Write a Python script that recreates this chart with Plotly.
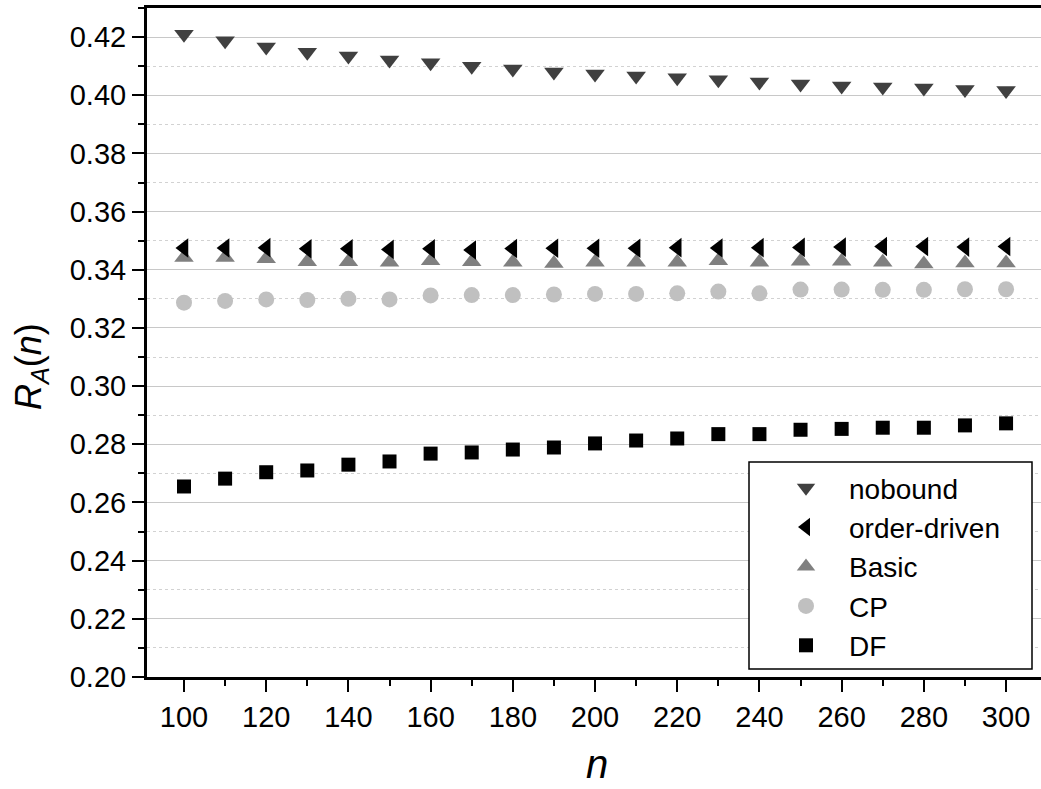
import plotly.graph_objects as go

n_values = [100, 110, 120, 130, 140, 150, 160, 170, 180, 190, 200,
            210, 220, 230, 240, 250, 260, 270, 280, 290, 300]

nobound = [0.4210, 0.4187, 0.4166, 0.4148, 0.4135, 0.4121, 0.4112, 0.4100,
           0.4090, 0.4080, 0.4073, 0.4066, 0.4060, 0.4053, 0.4046, 0.4039,
           0.4032, 0.4028, 0.4025, 0.4020, 0.4016]
order_driven = [0.3475, 0.3475, 0.3476, 0.3472, 0.3472, 0.3470, 0.3472, 0.3468,
                0.3473, 0.3474, 0.3474, 0.3474, 0.3476, 0.3475, 0.3476, 0.3477,
                0.3478, 0.3480, 0.3480, 0.3478, 0.3480]
basic = [0.3442, 0.3442, 0.3438, 0.3428, 0.3428, 0.3426, 0.3431, 0.3428,
         0.3426, 0.3422, 0.3426, 0.3426, 0.3426, 0.3431, 0.3426, 0.3429,
         0.3429, 0.3426, 0.3420, 0.3423, 0.3423]
cp = [0.3287, 0.3293, 0.3298, 0.3296, 0.3300, 0.3298, 0.3312, 0.3313,
      0.3313, 0.3315, 0.3317, 0.3317, 0.3319, 0.3325, 0.3319, 0.3332,
      0.3332, 0.3331, 0.3331, 0.3333, 0.3333]
df = [0.2655, 0.2682, 0.2704, 0.2710, 0.2730, 0.2741, 0.2768, 0.2772,
      0.2782, 0.2789, 0.2803, 0.2813, 0.2820, 0.2835, 0.2835, 0.2850,
      0.2853, 0.2857, 0.2857, 0.2865, 0.2872]

# (name, values, symbol, colour, size, legend rank) in drawing order
series = [
    ("nobound", nobound, "triangle-down", "#404040", 17, 1),
    ("Basic", basic, "triangle-up", "#808080", 17, 3),
    ("order-driven", order_driven, "triangle-left", "#000000", 17, 2),
    ("CP", cp, "circle", "#c0c0c0", 16, 4),
    ("DF", df, "square", "#000000", 14, 5),
]

FONT = "Liberation Sans, Arial, sans-serif"

fig = go.Figure()
for name, vals, sym, col, sz, rank in series:
    fig.add_trace(go.Scatter(
        x=n_values, y=vals, mode="markers", name=name, legendrank=rank,
        marker=dict(symbol=sym, color=col, size=sz, line=dict(width=0)),
    ))

W, H = 1041, 789
ML, MR, MT, MB = 147, 0, 8, 112
pw, ph = W - ML - MR, H - MT - MB

def px_x(x):
    return (x - ML) / pw

def px_y(y):
    return (H - MB - y) / ph

fig.update_layout(
    width=W, height=H,
    margin=dict(l=ML, r=MR, t=MT, b=MB),
    paper_bgcolor="white", plot_bgcolor="white",
    font=dict(family=FONT, size=29, color="black"),
    showlegend=True,
    legend=dict(
        x=px_x(763), y=px_y(463), xanchor="left", yanchor="top",
        bgcolor="rgba(0,0,0,0)", borderwidth=0,
        font=dict(family=FONT, size=28, color="black"),
        itemwidth=76,
    ),
    xaxis=dict(
        range=[91, 308.5], tick0=100, dtick=20,
        ticks="outside", ticklen=12, tickwidth=2, tickcolor="black",
        showline=True, linecolor="black", linewidth=3, mirror=True,
        showgrid=False, zeroline=False,
        tickfont=dict(family=FONT, size=29, color="black"),
        minor=dict(dtick=10, ticks="outside", ticklen=6, tickwidth=2,
                   tickcolor="black", showgrid=False),
    ),
    yaxis=dict(
        range=[0.20, 0.43], tick0=0.20, dtick=0.02, tickformat=".2f",
        ticks="outside", ticklen=12, tickwidth=2, tickcolor="black",
        showline=True, linecolor="black", linewidth=3,
        showgrid=True, gridcolor="#c8c8c8", gridwidth=1,
        zeroline=False,
        tickfont=dict(family=FONT, size=29, color="black"),
        minor=dict(dtick=0.01, ticks="outside", ticklen=6, tickwidth=2,
                   tickcolor="black", showgrid=True, gridcolor="#d2d2d2",
                   griddash="dot", gridwidth=1),
    ),
    shapes=[dict(
        type="rect", xref="paper", yref="paper",
        x0=px_x(749), x1=px_x(1032), y0=px_y(669), y1=px_y(462),
        line=dict(color="black", width=1.5), fillcolor="white", layer="above",
    )],
    annotations=[
        dict(text="<i>R</i><sub><i>A</i></sub>(<i>n</i>)", xref="paper", yref="paper",
             x=px_x(31), y=px_y(367), xanchor="center", yanchor="middle",
             textangle=-90, showarrow=False,
             font=dict(family=FONT, size=36, color="black")),
        dict(text="<i>n</i>", xref="paper", yref="paper",
             x=px_x(597), y=px_y(788), xanchor="center", yanchor="bottom",
             showarrow=False,
             font=dict(family=FONT, size=40, color="black")),
    ],
)

fig.write_html("out.html")
